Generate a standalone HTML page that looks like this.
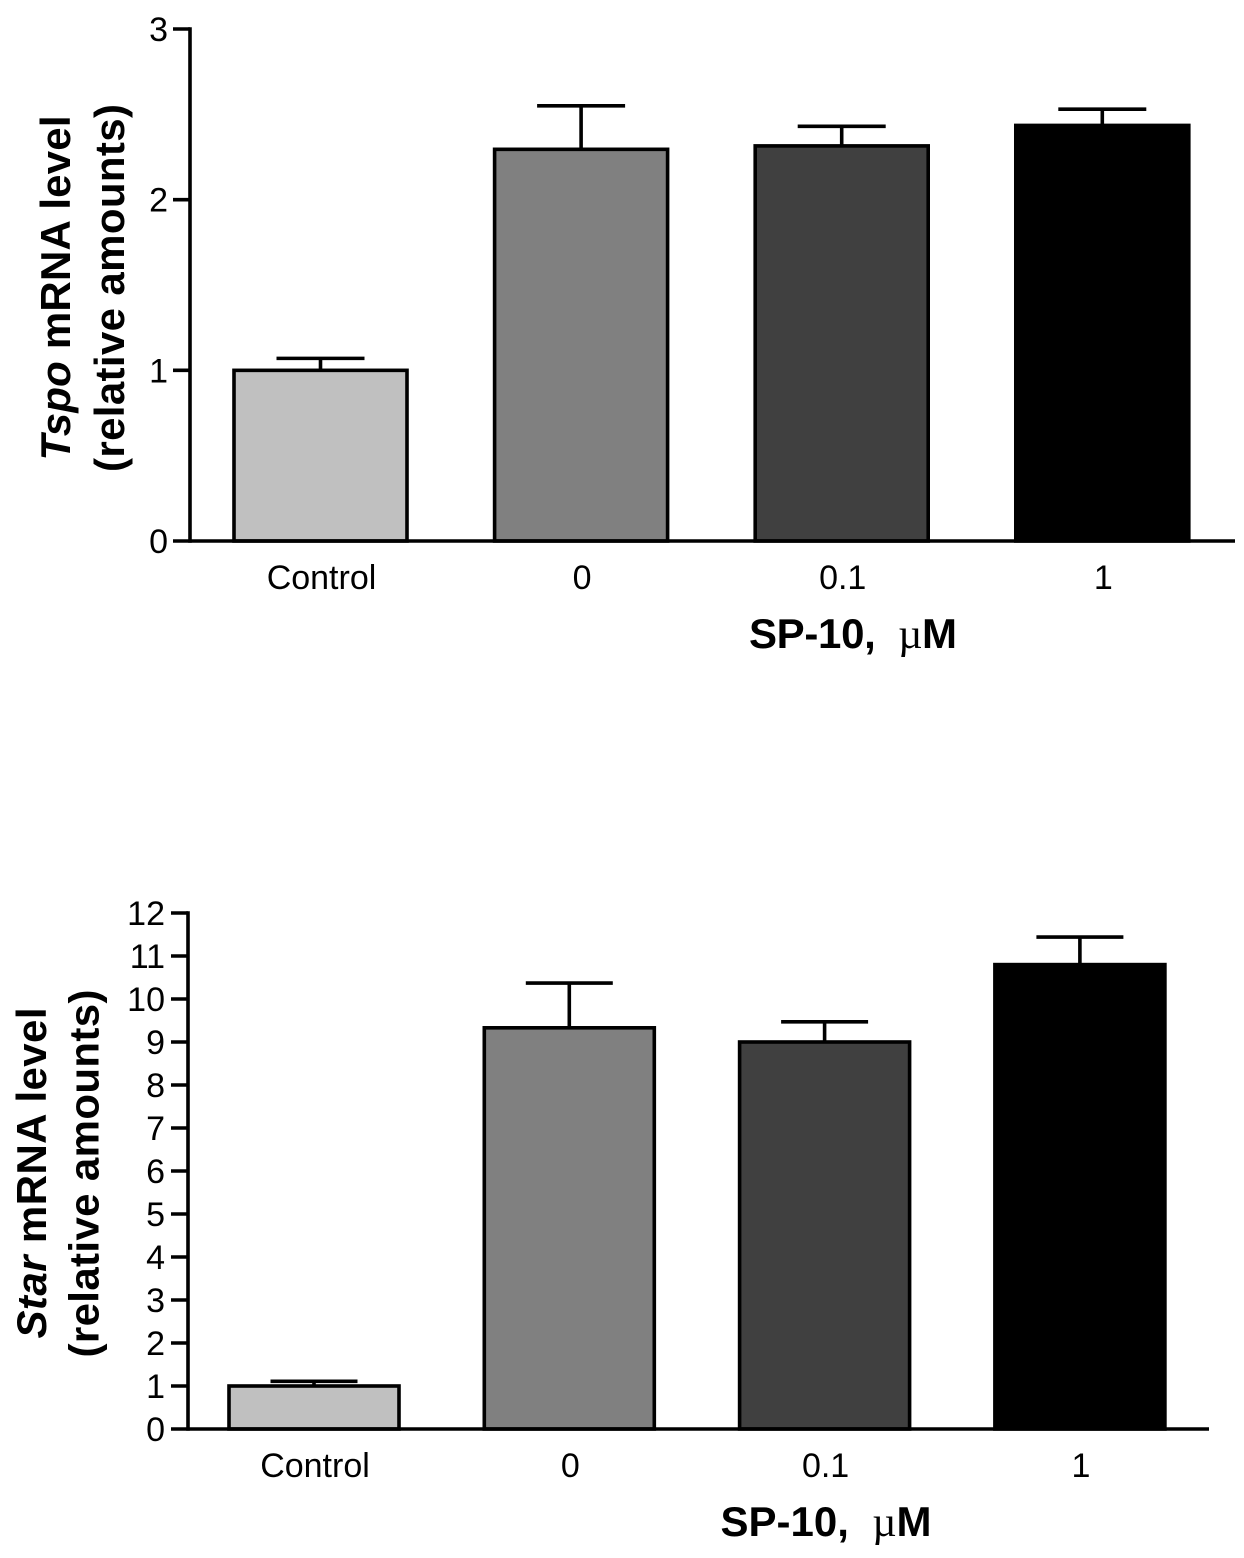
<!DOCTYPE html>
<html>
<head>
<meta charset="utf-8">
<title>Tspo and Star mRNA levels</title>
<style>
html,body{margin:0;padding:0;background:#fff;}
svg{display:block;}
text{font-family:"Liberation Sans",sans-serif;fill:#000;}
</style>
</head>
<body>
<svg id="figure" width="1244" height="1558" viewBox="0 0 1244 1558" xmlns="http://www.w3.org/2000/svg"></svg>
<script>
const categories = ['Control', '0', '0.1', '1'];
const barColors = ['#c0c0c0', '#808080', '#404040', '#000000'];

const tspoValues = [1.0, 2.295, 2.315, 2.435];
const tspoErrors = [0.07, 0.255, 0.115, 0.095];
const tspoTicks = ['0', '1', '2', '3'];

const starValues = [1.0, 9.33, 9.0, 10.8];
const starErrors = [0.11, 1.04, 0.47, 0.64];
const starTicks = ['0', '1', '2', '3', '4', '5', '6', '7', '8', '9', '10', '11', '12'];

const NS = 'http://www.w3.org/2000/svg';
const root = document.getElementById('figure');
const LW = 3.6;

function make(tag, parent, attrs, content) {
  const el = document.createElementNS(NS, tag);
  for (const k in attrs) el.setAttribute(k, attrs[k]);
  if (content !== undefined) el.textContent = content;
  parent.appendChild(el);
  return el;
}

function drawChart(o) {
  const g = make('g', root, {});
  
  
  const maxTick = Number(o.ticks[o.ticks.length - 1]);
  const yPos = v => o.y0 + (o.yTop - o.y0) * v / maxTick;
  const xPos = i => o.firstBar + i * o.barStep;

  // bars and error bars
  o.values.forEach((v, i) => {
    const x = xPos(i);
    const top = yPos(v);
    const errTop = yPos(v + o.errors[i]);
    const cx = x + o.barW / 2;
    const stem = make('line', g, {x1: cx, x2: cx, y1: top, y2: errTop, stroke: '#000', 'stroke-width': LW});
    
    
    const cap = make('line', g, {x1: cx - o.capW / 2, x2: cx + o.capW / 2, y1: errTop, y2: errTop, stroke: '#000', 'stroke-width': LW});
    
    
    const bar = make('rect', g, {x: x, y: top, width: o.barW, height: o.y0 - top, fill: barColors[i], stroke: '#000', 'stroke-width': LW});
    
    
    const lab = make('text', g, {x: cx + 1, y: o.catY, 'font-size': 34, 'text-anchor': 'middle'}, categories[i]);
    
    
  });

  // axes
  const yAxis = make('line', g, {x1: o.axisX, x2: o.axisX, y1: o.yTop - LW / 2, y2: o.y0 + LW / 2, stroke: '#000', 'stroke-width': LW});
  
  
  const xAxis = make('line', g, {x1: o.axisX, x2: o.axisEnd, y1: o.y0, y2: o.y0, stroke: '#000', 'stroke-width': LW});
  
  

  // y ticks
  o.ticks.forEach(t => {
    const y = yPos(Number(t));
    const tick = make('line', g, {x1: o.axisX - 17, x2: o.axisX, y1: y, y2: y, stroke: '#000', 'stroke-width': LW});
    
    
    const lab = make('text', g, {x: o.axisX - o.labelGap, y: y + 12, 'font-size': 34, 'text-anchor': 'end'}, t);
    
    
  });

  // y axis title
  const t1 = make('text', g, {transform: 'translate(' + o.titleX1 + ' ' + o.titleCy1 + ') rotate(-90)', 'font-size': 42, 'font-weight': 'bold', 'text-anchor': 'middle', textLength: o.titleLen1, lengthAdjust: 'spacing'});
  
  
  make('tspan', t1, {'font-style': 'italic'}, o.gene);
  make('tspan', t1, {}, ' mRNA level');
  const t2 = make('text', g, {transform: 'translate(' + o.titleX2 + ' ' + o.titleCy2 + ') rotate(-90)', 'font-size': 42, 'font-weight': 'bold', 'text-anchor': 'middle', textLength: o.titleLen2, lengthAdjust: 'spacing'}, '(relative amounts)');
  
  

  // x axis title
  const xt = make('text', g, {x: o.xTitleX, y: o.xTitleY, 'font-size': 42, 'font-weight': 'bold', 'text-anchor': 'middle', textLength: o.xTitleLen, lengthAdjust: 'spacing'});
  
  
  make('tspan', xt, {}, 'SP-10, \u00A0');
  make('tspan', xt, {'font-family': '"Liberation Serif", serif', 'font-weight': 'normal'}, '\u00B5');
  make('tspan', xt, {}, 'M');
}

drawChart({
  id: 'tspo', gene: 'Tspo', values: tspoValues, errors: tspoErrors, ticks: tspoTicks,
  y0: 541, yTop: 29, axisX: 190, axisEnd: 1235, labelGap: 22,
  firstBar: 234, barStep: 260.6, barW: 173, capW: 88, catY: 589,
  titleX1: 70, titleX2: 124, titleCy1: 288, titleCy2: 288, titleLen1: 345, titleLen2: 368,
  xTitleX: 853, xTitleY: 648, xTitleLen: 208
});

drawChart({
  id: 'star', gene: 'Star', values: starValues, errors: starErrors, ticks: starTicks,
  y0: 1429, yTop: 913, axisX: 188, axisEnd: 1209, labelGap: 23,
  firstBar: 229, barStep: 255.3, barW: 170, capW: 87, catY: 1477,
  titleX1: 46, titleX2: 98.5, titleCy1: 1173, titleCy2: 1173.5, titleLen1: 331, titleLen2: 368,
  xTitleX: 826, xTitleY: 1536, xTitleLen: 211
});
</script>
</body>
</html>
